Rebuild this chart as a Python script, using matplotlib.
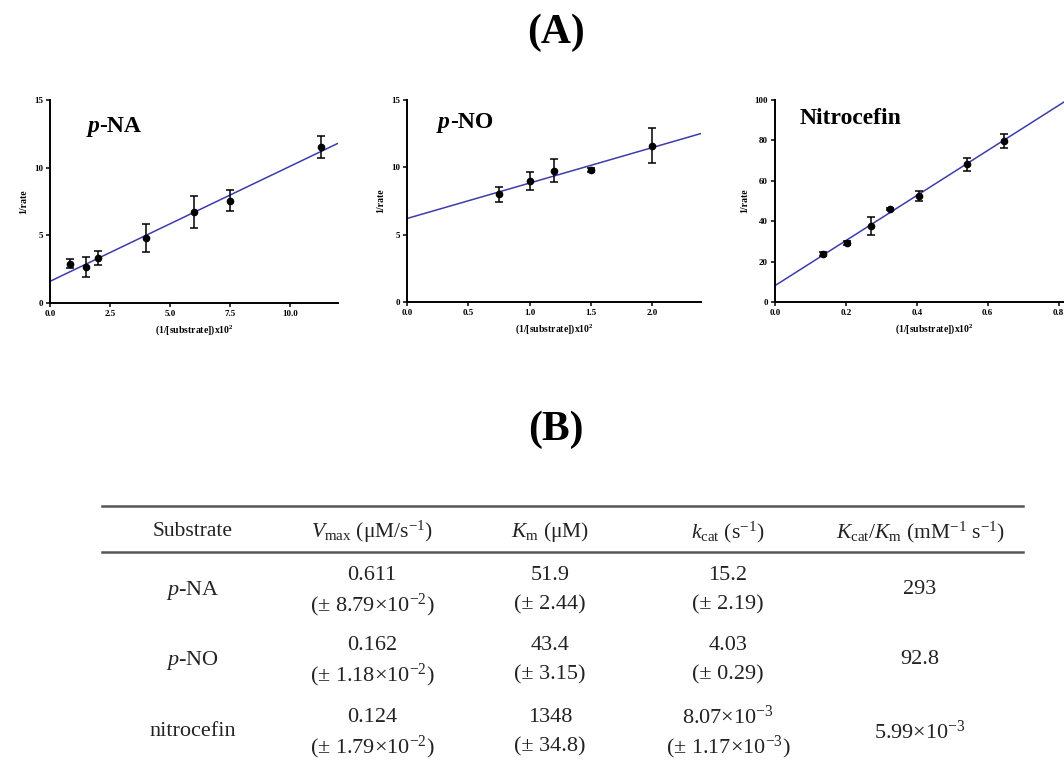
import matplotlib
matplotlib.use("Agg")
import matplotlib.pyplot as plt
from matplotlib.lines import Line2D

plt.rcParams['font.family'] = 'Liberation Serif'
plt.rcParams['mathtext.fontset'] = 'custom'
plt.rcParams['mathtext.rm'] = 'Liberation Serif'
plt.rcParams['mathtext.it'] = 'Liberation Serif:italic'
plt.rcParams['mathtext.bf'] = 'Liberation Serif:bold'

# Lineweaver-Burk data
pna_x = [0.83, 1.5, 2.0, 4.0, 6.0, 7.5, 11.3]
pna_y = [2.9, 2.65, 3.35, 4.8, 6.7, 7.55, 11.55]
pna_err = [0.35, 0.73, 0.52, 1.05, 1.17, 0.78, 0.81]
pna_fit = (1.6, 0.85)          # intercept, slope

pno_x = [0.75, 1.0, 1.2, 1.5, 2.0]
pno_y = [8.0, 9.0, 9.75, 9.8, 11.6]
pno_err = [0.55, 0.68, 0.84, 0.12, 1.3]
pno_fit = (6.2, 2.63)

nit_x = [0.135, 0.202, 0.27, 0.325, 0.405, 0.541, 0.646]
nit_y = [23.8, 29.0, 37.6, 46.0, 52.5, 68.2, 79.7]
nit_err = [0.8, 1.0, 4.3, 0.6, 2.4, 3.3, 3.7]
nit_fit = (8.1, 111.5)

# kinetic parameters table
substrates = ['$\\it{p}$-NA', '$\\it{p}$-NO', 'nitrocefin']
vmax = ['0.611', '0.162', '0.124']
vmax_err = ['(± 8.79×$10^{-2}$)', '(± 1.18×$10^{-2}$)', '(± 1.79×$10^{-2}$)']
km = ['51.9', '43.4', '1348']
km_err = ['(± 2.44)', '(± 3.15)', '(± 34.8)']
kcat = ['15.2', '4.03', '8.07×$10^{-3}$']
kcat_err = ['(± 2.19)', '(± 0.29)', '(± 1.17×$10^{-3}$)']
kcat_km = ['293', '92.8', '5.99×$10^{-3}$']
headers = ['Substrate', '$V_{\\mathrm{max}}$ (μM/s$^{-1}$)', '$K_{\\mathrm{m}}$ (μM)',
           '$k_{\\mathrm{cat}}$ (s$^{-1}$)', '$K_{\\mathrm{cat}}/K_{\\mathrm{m}}$ (mM$^{-1}$ s$^{-1}$)']

W, H = 1064, 760
fig = plt.figure(figsize=(W / 100, H / 100), dpi=100)


def px_axes(left, top, right, bottom):
    return fig.add_axes([left / W, 1 - bottom / H, (right - left) / W, (bottom - top) / H])


panels = [
    (px_axes(50, 100, 338, 303), pna_x, pna_y, pna_err, pna_fit, (0, 12), [0, 2.5, 5, 7.5, 10], (0, 15), [0, 5, 10, 15], ('p', '-NA'), (0.13, 0.84)),
    (px_axes(407, 100, 701, 302), pno_x, pno_y, pno_err, pno_fit, (0, 2.4), [0, 0.5, 1.0, 1.5, 2.0], (0, 15), [0, 5, 10, 15], ('p', '-NO'), (0.105, 0.86)),
    (px_axes(775, 100, 1094, 302), nit_x, nit_y, nit_err, nit_fit, (0, 0.9), [0, 0.2, 0.4, 0.6, 0.8], (0, 100), [0, 20, 40, 60, 80, 100], ('', 'Nitrocefin'), (0.076, 0.856)),
]

for ax, x, y, err, fit, xl, xt, yl, yt, name, pos in panels:
    ax.axline((0, fit[0]), slope=fit[1], color='#3c3cab', lw=1.1, zorder=2)
    ax.errorbar(x, y, yerr=err, fmt='o', color='black', ms=4.5, capsize=3,
                elinewidth=1.1, capthick=1.1, zorder=3)
    ax.set_xlim(*xl)
    ax.set_ylim(*yl)
    ax.set_xticks(xt)
    ax.set_xticklabels(['%.1f' % v for v in xt])
    ax.set_yticks(yt)
    for s in ['top', 'right']:
        ax.spines[s].set_visible(False)
    for s in ['left', 'bottom']:
        ax.spines[s].set_linewidth(1.4)
    ax.tick_params(direction='out', length=3, width=1.1, labelsize=6.5, pad=2)
    for lab in ax.get_xticklabels() + ax.get_yticklabels():
        lab.set_fontweight('bold')
    ax.set_ylabel('1/rate', fontsize=7, fontweight='bold', labelpad=4)
    ax.set_xlabel('(1/[substrate])x10$^{\\mathbf{2}}$', fontsize=7, fontweight='bold', labelpad=4)
    t = ax.text(pos[0], pos[1], name[0], transform=ax.transAxes, fontsize=17,
                fontweight='bold', fontstyle='italic', va='baseline')
    ax.annotate(name[1], xy=(1, 0), xycoords=t, fontsize=17, fontweight='bold', va='bottom')

# section titles
fig.text(556 / W, 1 - 33 / H, '(A)', fontsize=30, fontweight='bold', ha='center', va='center')
fig.text(556 / W, 1 - 430 / H, '(B)', fontsize=30, fontweight='bold', ha='center', va='center')

# table
tab = fig.add_axes([0, 0, 1, 1])
tab.set_xlim(0, W)
tab.set_ylim(H, 0)
tab.axis('off')
tab.patch.set_alpha(0)

col_x = [193, 372, 550, 728, 920]
tab.add_line(Line2D([102, 1023], [506, 506], color='#555555', lw=1.8))
tab.add_line(Line2D([102, 1023], [552, 552], color='#555555', lw=1.8))
for cx, h in zip(col_x, headers):
    tab.text(cx, 532, h, fontsize=15.5, ha='center', va='center', color='#222222')

row_y = [590, 660, 732]
for i, ry in enumerate(row_y):
    tab.text(col_x[0], ry, substrates[i], fontsize=16, ha='center', va='center', color='#222222')
    for cx, top, bot in [(col_x[1], vmax, vmax_err), (col_x[2], km, km_err), (col_x[3], kcat, kcat_err)]:
        tab.text(cx, ry - 15, top[i], fontsize=16, ha='center', va='center', color='#222222')
        tab.text(cx, ry + 15, bot[i], fontsize=16, ha='center', va='center', color='#222222')
    tab.text(col_x[4], ry, kcat_km[i], fontsize=16, ha='center', va='center', color='#222222')

fig.savefig('out.png', dpi=100)
